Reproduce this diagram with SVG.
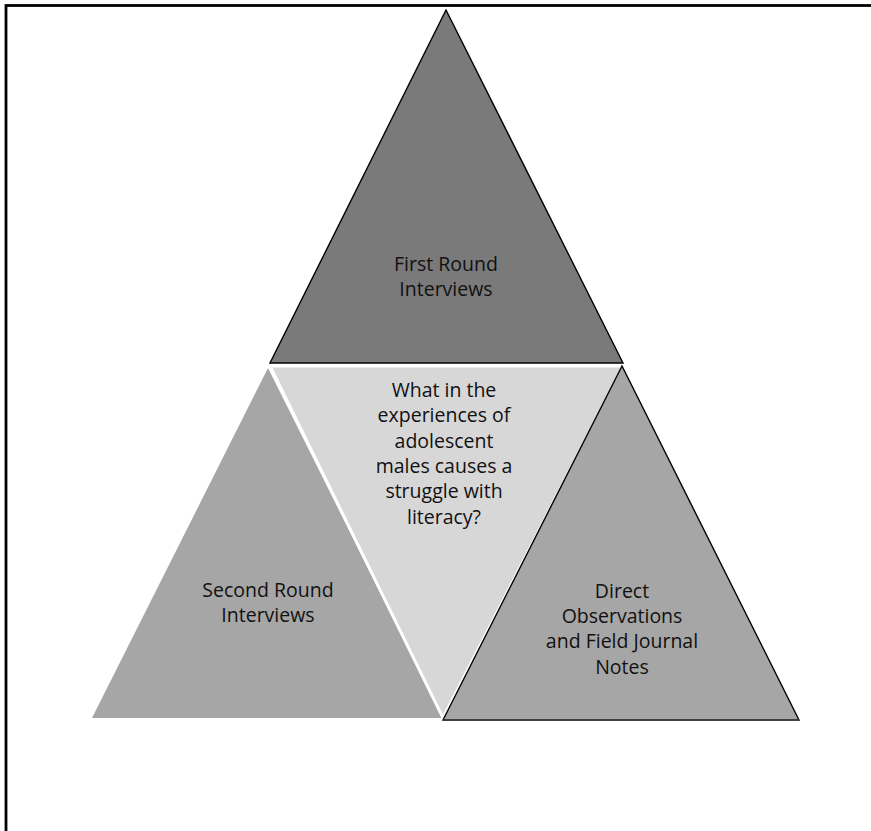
<svg xmlns="http://www.w3.org/2000/svg" width="871" height="831" viewBox="0 0 871 831">
<style>
.t{font-family:"Open Sans","Liberation Sans",sans-serif;font-size:19.5px;fill:#111;text-anchor:middle}
</style>
<rect x="0" y="0" width="871" height="831" fill="#fff"/>
<rect x="6" y="5.5" width="900" height="900" fill="none" stroke="#000" stroke-width="2.8"/>
<g id="top">
<polygon points="446,10 270,363 623,363" fill="#7a7a7a" stroke="#000" stroke-width="1.4"/>
<text class="t" x="446" y="271">First Round</text>
<text class="t" x="446" y="296">Interviews</text>
</g>
<g id="left">
<polygon points="268,368 92,718 443,718" fill="#a6a6a6"/>
<text class="t" x="268" y="597">Second Round</text>
<text class="t" x="268" y="622">Interviews</text>
</g>
<g id="center">
<polygon points="270,366 623,366 443,718" fill="#d7d7d7" stroke="#fff" stroke-width="3"/>
<text class="t" x="444" y="397">What in the</text>
<text class="t" x="444" y="422">experiences of</text>
<text class="t" x="444" y="447.5">adolescent</text>
<text class="t" x="444" y="472.5">males causes a</text>
<text class="t" x="444" y="498">struggle with</text>
<text class="t" x="444" y="523.5">literacy?</text>
</g>
<g id="right">
<polygon points="622,366 443,720 799,720" fill="#a6a6a6" stroke="#000" stroke-width="1.4"/>
<line x1="443" y1="720" x2="799" y2="720" stroke="#444" stroke-width="1.6"/>
<text class="t" x="622" y="598">Direct</text>
<text class="t" x="622" y="623">Observations</text>
<text class="t" x="622" y="648">and Field Journal</text>
<text class="t" x="622" y="674">Notes</text>
</g>
<g id="connectors"></g>
</svg>
